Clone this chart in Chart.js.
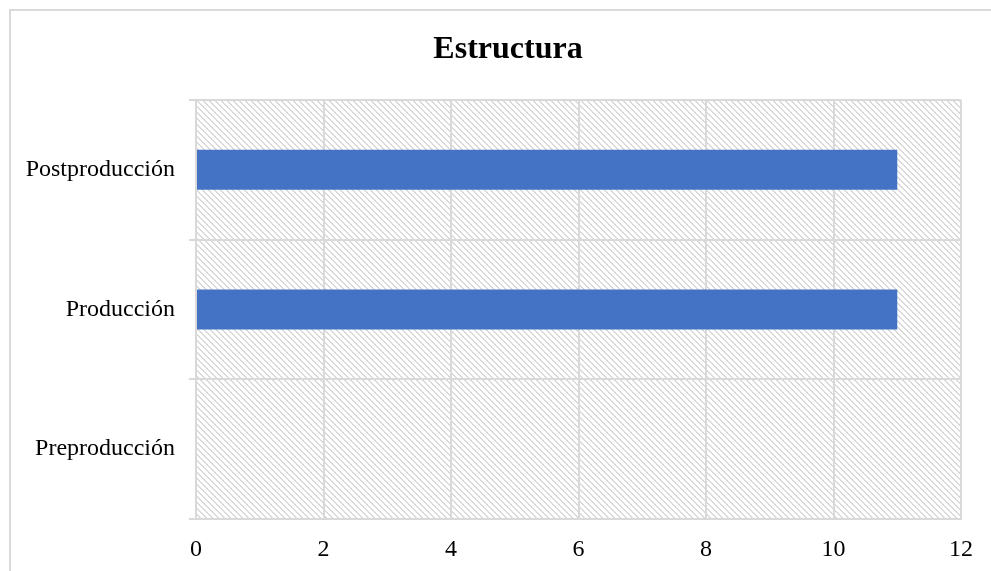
<!DOCTYPE html>
<html>
<head>
<meta charset="utf-8">
<script src="https://cdn.jsdelivr.net/npm/chart.js@4/dist/chart.umd.min.js"></script>
<style>
  html, body { margin: 0; padding: 0; background: #fff; }
  #wrap { width: 991px; height: 571px; position: relative; }
</style>
</head>
<body>
<div id="wrap"><canvas id="c" width="991" height="571"></canvas></div>
<script>
// Stages of the structure and the count for each one
const chartTitle = 'Estructura';
const categories = ['Postproducción', 'Producción', 'Preproducción'];
const values = [11, 11, 0];
const xTicks = [0, 2, 4, 6, 8, 10, 12];

const GRID = '#d9d9d9';
const SERIF = '"Liberation Serif", "Times New Roman", serif';

// Diagonal hatch used as the plot-area background
function makeHatch() {
  const s = 6;
  const p = document.createElement('canvas');
  p.width = s; p.height = s;
  const g = p.getContext('2d');
  g.fillStyle = '#dadada';
  for (let i = 0; i < s; i++) {
    g.fillRect(i, i, 1, 1);
    g.fillRect((i + 1) % s, i, 1, 1);
  }
  return p;
}

// Frame, hatched plot background and the heading (centred on the frame)
const frameAndHatch = {
  id: 'frameAndHatch',
  beforeDraw(chart) {
    const ctx = chart.ctx;
    const a = chart.chartArea;
    ctx.save();
    ctx.fillStyle = '#fff';
    ctx.fillRect(0, 0, chart.width, chart.height);
    ctx.strokeStyle = GRID;
    ctx.lineWidth = 2;
    ctx.beginPath();
    ctx.moveTo(10, chart.height + 5);
    ctx.lineTo(10, 10);
    ctx.lineTo(chart.width + 5, 10);
    ctx.stroke();
    ctx.fillStyle = ctx.createPattern(makeHatch(), 'repeat');
    ctx.fillRect(a.left, a.top, a.right - a.left, a.bottom - a.top);
    ctx.fillStyle = '#000';
    ctx.font = 'bold 32px ' + SERIF;
    ctx.textAlign = 'center';
    ctx.textBaseline = 'middle';
    ctx.fillText(chartTitle, (10 + chart.width + 5) / 2 + 5, 50);
    ctx.restore();
  }
};

new Chart(document.getElementById('c'), {
  type: 'bar',
  data: {
    labels: categories,
    datasets: [{
      data: values,
      backgroundColor: '#4472C4',
      borderWidth: 0,
      categoryPercentage: 1,
      barPercentage: 0.286
    }]
  },
  options: {
    indexAxis: 'y',
    responsive: false,
    animation: false,
    layout: { padding: { left: 0, right: 30, top: 100, bottom: 0 } },
    plugins: {
      legend: { display: false },
      tooltip: { enabled: false },
      title: { display: false }
    },
    scales: {
      x: {
        min: 0,
        max: 12,
        afterBuildTicks(scale) {
          scale.ticks = xTicks.map(v => ({ value: v }));
        },
        afterFit(scale) { scale.height = 52; },
        grid: { color: GRID, lineWidth: 2, drawTicks: false },
        border: { color: GRID, width: 2 },
        ticks: {
          color: '#000',
          padding: 16,
          font: { family: SERIF, size: 24 }
        }
      },
      y: {
        afterFit(scale) { scale.width = 196; },
        grid: { color: GRID, lineWidth: 2, offset: true, drawTicks: true, tickLength: 7 },
        border: { color: GRID, width: 2 },
        ticks: {
          color: '#000',
          padding: 14,
          font: { family: SERIF, size: 24 }
        }
      }
    }
  },
  plugins: [frameAndHatch]
});
</script>
</body>
</html>
